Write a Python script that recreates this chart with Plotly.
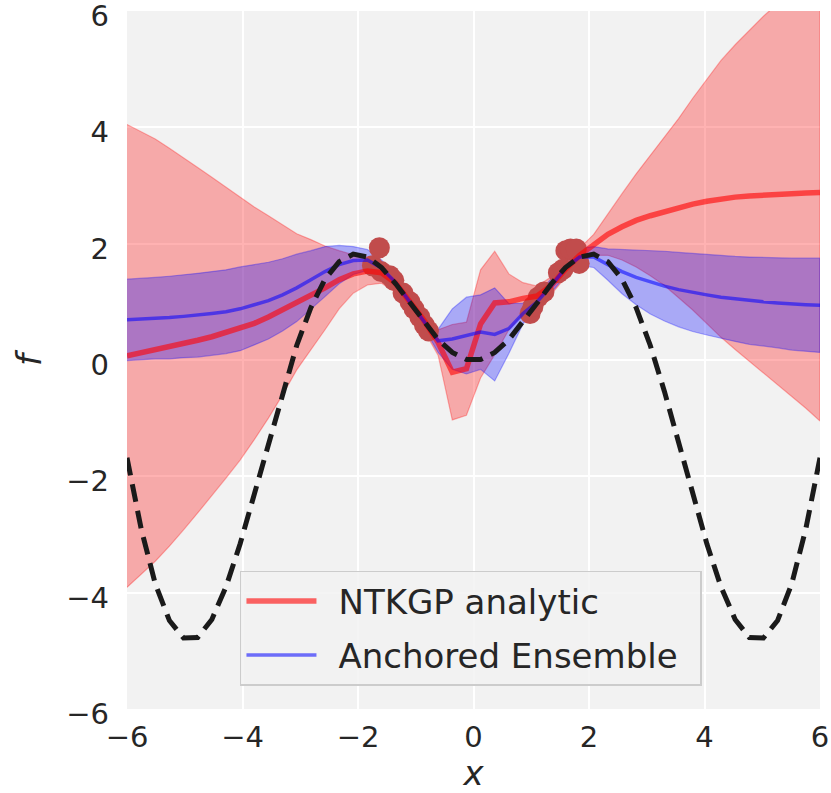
import numpy as np
import plotly.graph_objects as go

# x grid (50 evenly spaced points from -6 to 6)
x_grid = np.linspace(-6, 6, 50)

truth = [-1.68, -2.90, -3.85, -4.48, -4.78, -4.77, -4.46, -3.90, -3.16, -2.31,
         -1.41, -0.54, 0.25, 0.90, 1.39, 1.69, 1.82, 1.77, 1.59, 1.31,
         0.98, 0.65, 0.35, 0.13, 0.01, 0.01, 0.13, 0.35, 0.65, 0.98,
         1.31, 1.59, 1.77, 1.82, 1.69, 1.39, 0.90, 0.25, -0.54, -1.41,
         -2.31, -3.16, -3.90, -4.46, -4.77, -4.78, -4.48, -3.85, -2.90, -1.68]

# NTKGP analytic: mean and band half-width
ntk_mean = [0.07, 0.12, 0.17, 0.22, 0.28, 0.34, 0.40, 0.47, 0.54, 0.63,
            0.74, 0.86, 1.00, 1.12, 1.24, 1.38, 1.48, 1.53, 1.50, 1.32,
            1.00, 0.68, 0.30, -0.21, -0.15, 0.62, 0.98, 1.00, 1.06, 1.10,
            1.28, 1.56, 1.80, 1.98, 2.16, 2.29, 2.40, 2.48, 2.55, 2.61,
            2.68, 2.73, 2.77, 2.80, 2.82, 2.84, 2.85, 2.86, 2.87, 2.88]
ntk_hw = [3.98, 3.81, 3.63, 3.42, 3.20, 2.97, 2.74, 2.50, 2.26, 2.00,
          1.74, 1.46, 1.17, 0.95, 0.72, 0.50, 0.33, 0.24, 0.18, 0.16,
          0.16, 0.17, 0.22, 0.82, 0.80, 0.93, 0.89, 0.48, 0.27, 0.17,
          0.15, 0.14, 0.12, 0.18, 0.36, 0.57, 0.80, 1.03, 1.27, 1.54,
          1.82, 2.10, 2.38, 2.62, 2.85, 3.07, 3.28, 3.49, 3.70, 3.93]

# Anchored Ensemble: mean and band half-width
ens_mean = [0.69, 0.70, 0.72, 0.73, 0.75, 0.77, 0.80, 0.83, 0.88, 0.95,
            1.02, 1.12, 1.24, 1.38, 1.52, 1.64, 1.71, 1.72, 1.58, 1.33,
            1.00, 0.68, 0.33, 0.36, 0.42, 0.48, 0.44, 0.54, 0.80, 1.00,
            1.28, 1.58, 1.77, 1.77, 1.64, 1.52, 1.42, 1.34, 1.27, 1.21,
            1.16, 1.12, 1.08, 1.05, 1.02, 1.00, 0.98, 0.96, 0.95, 0.94]
ens_hw = [0.70, 0.70, 0.70, 0.71, 0.71, 0.72, 0.72, 0.72, 0.72, 0.69,
          0.66, 0.62, 0.58, 0.50, 0.43, 0.33, 0.24, 0.18, 0.14, 0.12,
          0.12, 0.13, 0.20, 0.52, 0.66, 0.64, 0.80, 0.43, 0.18, 0.12,
          0.12, 0.13, 0.15, 0.18, 0.27, 0.38, 0.47, 0.55, 0.60, 0.64,
          0.67, 0.69, 0.71, 0.73, 0.75, 0.76, 0.77, 0.79, 0.80, 0.81]

# training data
data_x = [-1.75, -1.63, -1.60, -1.45, -1.38, -1.22, -1.10, -1.03, -0.93, -0.85, -0.78,
          0.98, 1.03, 1.12, 1.22, 1.47, 1.55, 1.60, 1.68, 1.78, 1.83]
data_y = [1.62, 1.93, 1.52, 1.45, 1.37, 1.15, 1.00, 0.88, 0.74, 0.60, 0.50,
          0.80, 0.92, 1.08, 1.17, 1.50, 1.56, 1.88, 1.91, 1.91, 1.66]

tick_vals = [-6, -4, -2, 0, 2, 4, 6]
legend_names = ["NTKGP analytic", "Anchored Ensemble"]

xg = list(x_grid)
nm, nh = np.array(ntk_mean), np.array(ntk_hw)
em, eh = np.array(ens_mean), np.array(ens_hw)


def band(mean, hw, color):
    up = list(mean + hw)
    lo = list(mean - hw)
    return go.Scatter(x=xg + xg[::-1], y=up + lo[::-1], fill="toself",
                      fillcolor=color, mode="lines",
                      line=dict(color=color, width=1.2),
                      showlegend=False, hoverinfo="skip")


fig = go.Figure()
fig.add_trace(band(nm, nh, "rgba(255,0,0,0.3)"))
fig.add_trace(band(em, eh, "rgba(0,0,255,0.3)"))
fig.add_trace(go.Scatter(x=data_x, y=data_y, mode="markers",
                         marker=dict(size=21, color="rgb(193,76,76)", line=dict(width=0)),
                         showlegend=False))
fig.add_trace(go.Scatter(x=xg, y=ntk_mean, mode="lines",
                         name="\u2002" + legend_names[0] + "\u2002",
                         legendgroup="a",
                         line=dict(color="rgba(255,0,0,0.6)", width=5.5)))
fig.add_trace(go.Scatter(x=xg, y=ens_mean, mode="lines",
                         name="\u2002" + legend_names[1] + "\u2002",
                         legendgroup="b",
                         line=dict(color="rgba(0,0,255,0.55)", width=3.5)))
fig.add_trace(go.Scatter(x=xg, y=truth, mode="lines", showlegend=False,
                         line=dict(color="#1a1a1a", width=5, dash="18px,9px")))

font_color = "#262626"
fig.update_layout(
    width=831, height=793,
    margin=dict(l=127, r=11, t=11, b=84, autoexpand=False),
    paper_bgcolor="white",
    plot_bgcolor="#f2f2f2",
    font=dict(family="DejaVu Sans", color=font_color, size=29),
    legend=dict(x=0.163, y=0.198, xanchor="left", yanchor="top",
                bgcolor="rgba(242,242,242,0.85)", bordercolor="#cccccc", borderwidth=1.5,
                font=dict(size=34, color=font_color), itemwidth=70,
                tracegroupgap=7),
    showlegend=True,
)
fig.update_xaxes(range=[-6, 6], tickvals=tick_vals, showgrid=True, gridcolor="white",
                 gridwidth=2, zeroline=False, showline=False, ticks="", automargin=False,
                 ticklabelstandoff=8, tickfont=dict(size=29), ticklabeloverflow="allow",
                 title=dict(text="<i>x</i>", font=dict(size=34), standoff=2))
fig.update_yaxes(range=[-6, 6], tickvals=tick_vals, showgrid=True, gridcolor="white",
                 gridwidth=2, zeroline=False, showline=False, ticks="", automargin=False,
                 ticklabelstandoff=17, ticklabelshift=5, tickfont=dict(size=29),
                 ticklabeloverflow="allow",
                 title=dict(text="<i>f</i>", font=dict(size=34), standoff=14))

fig.write_html("out.html", config={"displayModeBar": False},
               post_script="document.body.style.margin='0';document.body.style.padding='0';")
